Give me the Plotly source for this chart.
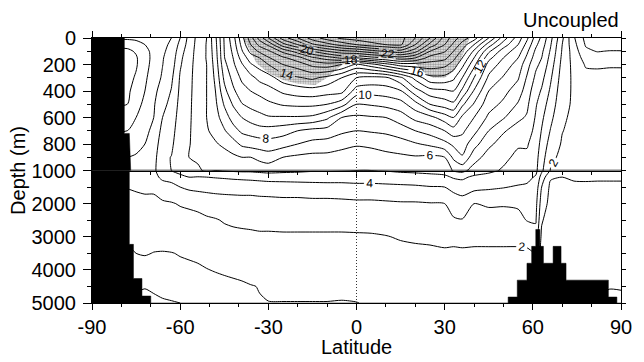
import numpy as np
import plotly.graph_objects as go

FONT = "Liberation Sans, Arial, Helvetica, sans-serif"

# Grid of the zonal-mean temperature section
LAT = [-90, -78, -75, -72, -69, -66, -63, -60, -57, -54, -51, -48, -45, -42, -39,
       -36, -33, -30, -25, -20, -15, -10, -5, 0, 5, 10, 15, 20, 25, 30, 33, 36,
       40, 45, 50, 55, 58, 61, 63, 66, 70, 74, 78, 82, 86, 90]
DEPTH = [0, 50, 100, 150, 200, 300, 400, 500, 600, 700, 800, 900, 1000,
         1200, 1500, 2000, 2500, 3000, 3500, 4000, 4500, 5000]

# Temperature (deg C) profiles, one per latitude in LAT, at the DEPTH levels
T_PROFILES = [
    [1.2, 0.3, -0.2, -0.3, -0.3, -0.3, -0.2, 0.0, 0.5, 1.0, 1.5, 2.0, 2.2, 2.3, 2.05, 1.6, 1.3, 1.1, 0.9, 0.5, 0.0, -0.3],
    [1.2, 0.3, -0.2, -0.3, -0.3, -0.3, -0.2, 0.0, 0.5, 1.0, 1.5, 2.0, 2.2, 2.3, 2.05, 1.6, 1.3, 1.1, 0.9, 0.5, 0.0, -0.3],
    [1.3, 0.5, 0.1, -0.1, -0.1, 0.1, 0.4, 0.7, 1.0, 1.4, 1.7, 2.1, 2.3, 2.4, 2.1, 1.75, 1.4, 1.2, 1.0, 0.6, 0.1, -0.2],
    [1.4, 1.0, 0.7, 0.6, 0.6, 0.8, 1.0, 1.2, 1.5, 1.8, 2.0, 2.3, 2.5, 2.5, 2.15, 1.8, 1.5, 1.3, 1.05, 0.7, 0.05, -0.3],
    [1.6, 1.4, 1.3, 1.3, 1.4, 1.6, 1.75, 1.9, 2.0, 2.2, 2.4, 2.6, 2.7, 2.6, 2.15, 1.8, 1.5, 1.25, 0.98, 0.6, 0.15, -0.2],
    [1.8, 1.85, 1.9, 1.95, 1.98, 2.1, 2.4, 2.7, 3.0, 3.3, 3.6, 3.85, 3.9, 3.3, 2.4, 1.9, 1.6, 1.35, 0.95, 0.75, 0.25, -0.1],
    [2.0, 2.1, 2.2, 2.35, 2.5, 2.8, 3.05, 3.3, 3.5, 3.7, 3.85, 4.02, 4.0, 3.6, 2.5, 1.95, 1.7, 1.45, 0.97, 0.75, 0.3, -0.05],
    [3.0, 3.3, 3.6, 3.8, 3.9, 4.1, 4.2, 4.3, 4.4, 4.45, 4.5, 4.4, 4.2, 3.85, 3.0, 2.05, 1.75, 1.5, 1.05, 0.8, 0.4, 0.0],
    [4.3, 4.4, 4.5, 4.55, 4.6, 4.7, 4.75, 4.8, 4.85, 4.9, 4.95, 5.0, 4.7, 4.0, 3.2, 2.1, 1.8, 1.55, 1.1, 0.85, 0.5, 0.1],
    [5.3, 5.35, 5.4, 5.45, 5.5, 5.5, 5.5, 5.5, 5.45, 5.4, 5.3, 5.1, 4.9, 3.95, 3.3, 2.15, 1.85, 1.65, 1.15, 0.9, 0.6, 0.2],
    [6.0, 6.05, 6.05, 6.05, 6.0, 6.0, 6.0, 6.0, 6.0, 5.9, 5.7, 5.5, 5.1, 4.0, 3.35, 2.3, 1.9, 1.7, 1.3, 0.97, 0.65, 0.25],
    [7.8, 7.7, 7.6, 7.5, 7.4, 7.2, 7.0, 6.8, 6.6, 6.3, 5.9, 5.4, 5.0, 4.05, 3.4, 2.4, 1.95, 1.75, 1.35, 1.05, 0.7, 0.35],
    [10.1, 10.05, 10.0, 9.95, 9.7, 9.2, 8.7, 8.1, 7.5, 6.9, 6.2, 5.6, 5.05, 4.1, 3.4, 2.5, 2.05, 1.8, 1.4, 1.1, 0.8, 0.45],
    [11.6, 11.4, 11.2, 11.0, 10.8, 10.3, 9.8, 9.1, 8.4, 7.6, 6.6, 5.8, 5.15, 4.15, 3.45, 2.5, 2.1, 1.85, 1.45, 1.15, 0.85, 0.55],
    [13.6, 13.3, 12.9, 12.4, 11.9, 11.2, 10.6, 9.95, 9.0, 8.2, 7.2, 6.0, 5.2, 4.2, 3.45, 2.55, 2.15, 1.85, 1.5, 1.2, 0.9, 0.6],
    [15.6, 15.0, 14.3, 13.5, 12.9, 11.7, 11.0, 10.3, 9.4, 8.4, 7.4, 6.0, 5.2, 4.25, 3.45, 2.55, 2.2, 1.85, 1.55, 1.25, 0.97, 0.9],
    [17.4, 16.3, 15.2, 14.0, 13.4, 12.3, 11.3, 10.5, 9.7, 8.6, 7.5, 6.3, 5.3, 4.3, 3.5, 2.6, 2.2, 1.9, 1.6, 1.3, 1.02, 0.97],
    [19.0, 17.2, 15.8, 14.9, 14.0, 12.6, 11.6, 10.8, 9.9, 8.6, 7.6, 6.5, 5.4, 4.35, 3.55, 2.6, 2.2, 1.9, 1.65, 1.35, 1.15, 0.98],
    [21.5, 19.6, 17.3, 15.8, 15.0, 13.5, 12.2, 11.1, 9.9, 8.4, 7.4, 6.0, 5.3, 4.35, 3.6, 2.65, 2.25, 1.9, 1.7, 1.4, 1.2, 0.98],
    [23.0, 21.0, 18.5, 16.6, 15.5, 13.9, 12.5, 11.2, 9.9, 8.0, 7.0, 5.8, 5.2, 4.4, 3.6, 2.65, 2.25, 1.9, 1.7, 1.45, 1.2, 0.98],
    [24.5, 22.8, 20.0, 17.8, 16.3, 14.2, 12.6, 11.2, 9.8, 7.7, 6.7, 5.7, 5.1, 4.4, 3.65, 2.7, 2.25, 1.9, 1.7, 1.45, 1.2, 0.98],
    [25.5, 23.6, 21.0, 18.5, 16.6, 13.7, 12.4, 11.0, 9.2, 7.6, 6.6, 5.7, 5.1, 4.45, 3.65, 2.7, 2.25, 1.9, 1.7, 1.45, 1.2, 0.98],
    [26.2, 24.4, 21.7, 19.2, 16.0, 13.0, 12.3, 10.4, 8.0, 7.2, 6.3, 5.6, 5.05, 4.45, 3.65, 2.75, 2.25, 1.9, 1.7, 1.45, 1.15, 0.97],
    [26.5, 25.0, 22.0, 19.0, 14.8, 12.0, 10.5, 9.0, 7.8, 7.0, 6.1, 5.5, 5.0, 4.5, 3.7, 2.8, 2.3, 1.9, 1.7, 1.45, 1.15, 0.99],
    [26.8, 25.6, 22.6, 19.6, 15.6, 11.7, 10.4, 9.1, 7.9, 7.1, 6.2, 5.55, 5.0, 4.5, 3.7, 2.8, 2.3, 1.92, 1.75, 1.5, 1.25, 1.05],
    [26.8, 26.0, 23.1, 20.0, 16.6, 11.8, 10.5, 9.3, 8.0, 7.2, 6.4, 5.7, 5.05, 4.55, 3.75, 2.85, 2.35, 1.97, 1.75, 1.5, 1.3, 1.1],
    [26.4, 26.2, 23.6, 20.6, 17.5, 12.8, 10.9, 9.6, 8.5, 7.5, 6.6, 5.8, 5.15, 4.6, 3.8, 2.9, 2.4, 2.06, 1.8, 1.55, 1.35, 1.15],
    [25.0, 24.0, 22.4, 20.0, 17.6, 14.3, 12.6, 10.6, 9.3, 8.0, 6.9, 5.9, 5.2, 4.65, 3.85, 2.9, 2.45, 2.1, 1.85, 1.6, 1.4, 1.2],
    [23.0, 21.7, 20.0, 18.6, 17.6, 15.7, 13.6, 12.0, 9.7, 8.4, 7.2, 5.8, 5.25, 4.75, 3.95, 2.95, 2.5, 2.15, 1.85, 1.6, 1.45, 1.25],
    [20.6, 20.0, 19.1, 18.3, 17.3, 15.7, 13.8, 12.5, 10.5, 9.0, 7.7, 6.0, 5.4, 4.8, 4.0, 3.0, 2.6, 2.2, 1.9, 1.65, 1.45, 1.3],
    [19.5, 18.8, 18.0, 17.3, 16.6, 15.2, 14.0, 12.8, 11.0, 9.6, 8.2, 7.2, 6.1, 5.1, 4.3, 3.4, 2.9, 2.15, 1.9, 1.65, 1.45, 1.3],
    [18.5, 17.6, 16.8, 16.0, 15.3, 14.0, 12.8, 11.2, 9.8, 9.2, 8.5, 7.9, 6.3, 5.2, 4.45, 3.6, 2.95, 2.2, 1.9, 1.7, 1.5, 1.3],
    [17.5, 16.0, 14.8, 14.0, 13.3, 12.0, 10.9, 9.9, 9.0, 8.3, 7.4, 6.4, 5.6, 4.8, 4.3, 3.0, 2.5, 2.15, 1.9, 1.7, 1.5, 1.35],
    [15.0, 13.5, 12.2, 11.3, 10.6, 9.8, 9.0, 8.4, 7.8, 7.0, 6.2, 5.6, 5.2, 4.7, 4.15, 3.15, 2.5, 2.15, 1.9, 1.7, 1.5, 1.35],
    [12.5, 11.5, 10.5, 10.0, 9.6, 8.9, 8.3, 7.8, 7.1, 6.1, 5.6, 5.2, 4.9, 4.5, 4.05, 3.1, 2.55, 2.15, 1.9, 1.7, 1.5, 1.35],
    [10.5, 10.0, 9.5, 9.0, 8.6, 8.1, 7.5, 6.9, 6.2, 5.6, 5.1, 4.8, 4.6, 4.4, 3.9, 3.2, 2.6, 2.15, 1.9, 1.7, 1.5, 1.4],
    [9.2, 8.7, 8.2, 7.8, 7.4, 6.9, 6.5, 6.2, 5.9, 5.5, 5.1, 4.8, 4.6, 4.25, 3.85, 3.4, 3.05, 2.2, 1.9, 1.7, 1.5, 1.4],
    [7.6, 7.2, 6.8, 6.5, 6.2, 5.8, 5.4, 5.1, 4.9, 4.7, 4.5, 4.35, 4.25, 3.9, 3.6, 3.3, 3.1, 2.6, 2.0, 1.7, 1.5, 1.4],
    [6.8, 6.5, 6.2, 6.0, 5.8, 5.3, 4.9, 4.5, 4.2, 3.95, 3.7, 3.45, 3.2, 2.6, 2.0, 1.5, 1.1, 0.8, 0.6, 0.5, 0.4, 0.3],
    [5.3, 5.1, 4.9, 4.7, 4.5, 4.15, 3.85, 3.55, 3.25, 2.95, 2.6, 2.25, 1.95, 1.1, 0.8, 0.7, 0.5, 0.4, 0.35, 0.3, 0.2, 0.1],
    [3.2, 3.0, 2.9, 2.8, 2.7, 2.55, 2.4, 2.3, 2.15, 2.03, 1.9, 1.75, 1.6, 1.0, 0.85, 0.6, 0.5, 0.4, 0.35, 0.25, 0.15, 0.05],
    [1.1, 1.3, 1.5, 1.6, 1.7, 1.8, 1.85, 1.85, 1.8, 1.75, 1.65, 1.5, 1.4, 1.1, 0.85, 0.6, 0.5, 0.4, 0.35, 0.25, 0.1, 0.0],
    [-0.3, -0.1, 0.2, 0.6, 0.9, 1.3, 1.5, 1.6, 1.6, 1.55, 1.5, 1.4, 1.35, 1.12, 0.85, 0.6, 0.5, 0.4, 0.3, 0.2, 0.1, -0.05],
    [-0.8, -0.5, -0.05, 0.5, 0.85, 1.3, 1.5, 1.6, 1.6, 1.55, 1.5, 1.4, 1.35, 1.1, 0.85, 0.6, 0.5, 0.4, 0.3, 0.2, 0.08, -0.05],
    [-0.9, -0.6, 0.05, 0.55, 0.9, 1.3, 1.5, 1.6, 1.6, 1.55, 1.5, 1.4, 1.35, 1.1, 0.85, 0.6, 0.5, 0.4, 0.3, 0.2, 0.02, -0.1],
    [-1.0, -0.6, 0.05, 0.55, 0.9, 1.3, 1.5, 1.6, 1.6, 1.55, 1.5, 1.4, 1.35, 1.1, 0.85, 0.6, 0.5, 0.4, 0.3, 0.2, 0.03, -0.1],
]

# Stippled region in the upper ocean: lower boundary (surface is the upper one)
STIPPLE_LAT = [-38.5, -36, -34, -30, -25, -20, -14, -10, -6, -2, 2, 6, 10, 15,
               20, 23, 26, 30, 33, 35.5, 37, 38.5]
STIPPLE_DEPTH = [0, 110, 190, 265, 317, 345, 355, 300, 220, 160, 140, 140, 150,
                 165, 190, 260, 300, 300, 250, 160, 80, 0]

# Topography: cell edges in latitude and the ocean floor depth in each cell
LAND_EDGES = [-90, -79, -77.3, -75.9, -73, -70, 51.6, 54.7, 58, 59.6, 61, 62.4,
              63.6, 66.9, 69.6, 71.3, 85.7, 88.6, 90]
FLOOR = [0, 720, 3230, 4260, 4790, 5000, 4820, 4310, 3800, 3290, 2780, 3290,
         3800, 3290, 3800, 4310, 4820, 5000]

LAT_TICKS = [-90, -60, -30, 0, 30, 60, 90]
TOP_DEPTH_TICKS = [0, 200, 400, 600, 800, 1000]
DEEP_DEPTH_TICKS = [2000, 3000, 4000, 5000]
MAX_DEPTH = 5000

temp = np.array(T_PROFILES).T  # rows follow DEPTH, columns follow LAT
BLACK_SCALE = [[0, "black"], [1, "black"]]

fig = go.Figure()

panels = [("x2", "y2"), ("x", "y")]
for xa, ya in panels:
    # odd isotherms, unlabelled
    fig.add_trace(go.Contour(
        x=LAT, y=DEPTH, z=temp, xaxis=xa, yaxis=ya,
        contours=dict(start=1, end=25, size=2, coloring="none"),
        colorscale=BLACK_SCALE,
        line=dict(color="black", width=1, smoothing=0.7),
        showscale=False, hoverinfo="skip"))
    # even isotherms, labelled
    fig.add_trace(go.Contour(
        x=LAT, y=DEPTH, z=temp, xaxis=xa, yaxis=ya,
        contours=dict(start=0, end=26, size=2, coloring="none",
                      showlabels=True,
                      labelfont=dict(size=12, color="black", family=FONT)),
        colorscale=BLACK_SCALE,
        line=dict(color="black", width=1, smoothing=0.7),
        showscale=False, hoverinfo="skip"))

# stippled warm-water region
poly_lat = STIPPLE_LAT + [STIPPLE_LAT[-1], STIPPLE_LAT[0]]
poly_dep = STIPPLE_DEPTH + [0, 0]
fig.add_trace(go.Scatter(
    x=poly_lat, y=poly_dep, xaxis="x2", yaxis="y2", mode="lines",
    fill="toself", fillcolor="rgba(0,0,0,0)",
    fillpattern=dict(shape=".", size=2.5, solidity=0.6, fgcolor="#222222"),
    line=dict(width=0), showlegend=False, hoverinfo="skip"))

# topography as one stepped black outline closed along the bottom
step_lat, step_dep = [LAND_EDGES[0]], [MAX_DEPTH]
for i, fl in enumerate(FLOOR):
    step_lat += [LAND_EDGES[i], LAND_EDGES[i + 1]]
    step_dep += [fl, fl]
step_lat += [LAND_EDGES[-1]]
step_dep += [MAX_DEPTH]
for xa, ya in panels:
    fig.add_trace(go.Scatter(
        x=step_lat, y=step_dep, xaxis=xa, yaxis=ya, mode="lines",
        fill="toself", fillcolor="black", line=dict(color="black", width=0.5),
        showlegend=False, hoverinfo="skip"))

# carriers for the right-hand tick axes
fig.add_trace(go.Scatter(x=[None], y=[None], xaxis="x2", yaxis="y3",
                         showlegend=False, hoverinfo="skip"))
fig.add_trace(go.Scatter(x=[None], y=[None], xaxis="x", yaxis="y4",
                         showlegend=False, hoverinfo="skip"))

tickfont = dict(family=FONT, size=20, color="black")
lat_text = [str(v) for v in LAT_TICKS]
axis_common = dict(showgrid=False, zeroline=False, showline=True,
                   linecolor="black", linewidth=1, ticks="outside",
                   tickcolor="black", tickwidth=1)

fig.update_layout(
    width=644, height=362,
    margin=dict(l=92, r=12, t=38, b=59),
    paper_bgcolor="white", plot_bgcolor="white",
    showlegend=False,
    font=dict(family=FONT, color="black"),
    xaxis=dict(domain=[0, 1], anchor="y", range=[-90, 90],
               tickvals=LAT_TICKS, ticktext=lat_text, ticklen=6,
               minor=dict(dtick=10, tick0=-90, ticklen=3, ticks="outside"),
               tickfont=tickfont, **axis_common),
    xaxis2=dict(domain=[0, 1], anchor="y2", range=[-90, 90], side="top",
                tickvals=LAT_TICKS, ticklen=6, showticklabels=False,
                minor=dict(dtick=10, tick0=-90, ticklen=3, ticks="outside"),
                mirror="ticks", **axis_common),
    yaxis=dict(domain=[0, 0.5], anchor="x", range=[MAX_DEPTH, 1000],
               tickvals=DEEP_DEPTH_TICKS, ticklen=8, ticklabelstandoff=3,
               minor=dict(tickvals=[1500, 2500, 3500, 4500], ticklen=4,
                          ticks="outside"),
               tickfont=tickfont, **axis_common),
    yaxis2=dict(domain=[0.5, 1], anchor="x2", range=[1000, 0],
                tickvals=TOP_DEPTH_TICKS, ticklen=8, ticklabelstandoff=3,
                minor=dict(dtick=100, tick0=0, ticklen=4, ticks="outside"),
                tickfont=tickfont, **axis_common),
    yaxis3=dict(overlaying="y2", anchor="x2", side="right", range=[1000, 0],
                tickmode="linear", tick0=0, dtick=100, ticklen=4,
                showticklabels=False, **axis_common),
    yaxis4=dict(overlaying="y", anchor="x", side="right",
                range=[MAX_DEPTH, 1000], tickmode="linear", tick0=1000,
                dtick=500, ticklen=4, showticklabels=False, **axis_common),
    shapes=[
        dict(type="line", xref="x", yref="paper", x0=0, x1=0, y0=0, y1=1,
             line=dict(color="#333333", width=1, dash="1px,2px"),
             layer="above"),
        dict(type="line", xref="paper", yref="y2", x0=0, x1=1, y0=1000,
             y1=1000, line=dict(color="black", width=1.4), layer="above"),
    ],
    annotations=[
        dict(text="Uncoupled", xref="paper", yref="paper", x=1, y=1,
             xanchor="right", yanchor="bottom", yshift=5, showarrow=False,
             font=dict(family=FONT, size=20, color="black")),
        dict(text="Depth (m)", xref="paper", yref="paper", x=-0.141, y=0.5,
             xanchor="center", yanchor="middle", textangle=-90,
             showarrow=False, font=dict(family=FONT, size=20, color="black")),
        dict(text="Latitude", xref="paper", yref="paper", x=0.5, y=-0.165,
             xanchor="center", yanchor="middle", showarrow=False,
             font=dict(family=FONT, size=20, color="black")),
    ],
)

fig.write_html("out.html")
